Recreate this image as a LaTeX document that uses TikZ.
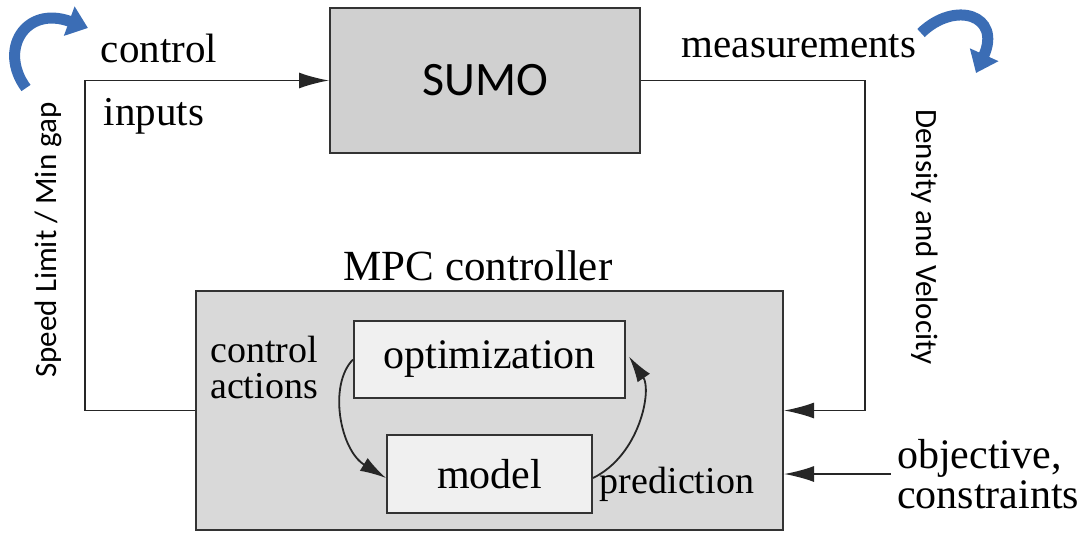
\documentclass[tikz,border=0pt]{standalone}
\usepackage{fontspec}
\setmainfont{Liberation Serif}
\newfontfamily\calfont{Carlito}
\usetikzlibrary{positioning, arrows.meta, calc}

\definecolor{sumogray}{HTML}{D0D0D0}
\definecolor{mpcgray}{HTML}{D9D9D9}
\definecolor{innergray}{HTML}{F0F0F0}
\definecolor{hintblue}{HTML}{3B6DB5}

\begin{document}
\begin{tikzpicture}[
        x=1pt, y=-1pt,
        >={Latex[length=30pt, width=16pt]},
        block/.style={draw=black!80, line width=2pt, rectangle, align=center},
        inner/.style={block, fill=innergray, font=\fontsize{42}{44}\selectfont},
        lbl/.style={inner sep=2pt, font=\fontsize{41}{44}\selectfont},
        small_lbl/.style={inner sep=2pt, align=left, font=\fontsize{38}{36}\selectfont},
        side_text/.style={inner sep=0pt, font=\calfont\fontsize{31}{34}\selectfont},
        link/.style={line width=1.8pt, draw=black!85},
        hint/.style={draw=hintblue, line width=11pt, -{Triangle[length=20pt, width=30pt]}}
        ]
        \useasboundingbox (0,0) rectangle (1083,533);

        % Nodes
        \node[block, fill=sumogray, minimum width=310pt, minimum height=145pt,
              font=\calfont\fontsize{48}{50}\selectfont] (sumo) at (485,80.5) {SUMO};
        \node[block, fill=mpcgray, minimum width=587pt, minimum height=239pt] (mpc) at (489.5,410.5) {};
        \node[inner, minimum width=271pt, minimum height=77pt] (opt) at (489.5,359.5) {optimization};
        \node[inner, minimum width=205pt, minimum height=78pt] (model) at (489.5,474) {model};

        % Labels
        \node[lbl] (ctrl) at (159,48) {control};
        \node[lbl] (inputs) at (154,116) {inputs};
        \node[lbl] (meas) at (799,46) {measurements};
        \node[lbl, font=\fontsize{43}{44}\selectfont] (mpclabel) at (478,266) {MPC controller};
        \node[small_lbl] (actions) at (264,367) {control\\actions};
        \node[small_lbl] (pred) at (677,484) {prediction};
        \node[lbl, align=left, font=\fontsize{42}{40}\selectfont] (obj) at (988,474) {objective,\\constraints};
        \node[side_text, rotate=90] (speed) at (48,240) {Speed Limit / Min gap};
        \node[side_text, rotate=-90] (dens) at (925,237) {Density and Velocity};

        % Corners of the feedback loop
        \coordinate (cl) at (85,410.5);
        \coordinate (cr) at (865,410.5);

        % Arrows
        \draw[link, ->] (mpc.west) -- (cl) |- (sumo.west);
        \draw[link, ->] (sumo.east) -| (cr) -- (mpc.east);
        \draw[link, ->] ([xshift=-4pt]obj.west) -- (obj.west -| mpc.east);

        % Inner loop
        \draw[link, -{Latex[length=26pt, width=15pt]}] (opt.west) .. controls (328,385) and (340,450) .. ([yshift=-4pt]model.west);
        \draw[link, -{Latex[length=26pt, width=15pt]}] ([yshift=-4pt]model.east) .. controls (640,455) and (652,390) .. ([xshift=3pt, yshift=3pt]opt.east);

        % Blue hints
        \coordinate (tl_start) at (26,88);
        \coordinate (tl_end) at (88,28);
        \coordinate (tr_start) at (921,33);
        \coordinate (tr_end) at (976,73);
        \draw[hint] (tl_start) .. controls (-2,50) and (25,5) .. (tl_end);
        \draw[hint] (tr_start) .. controls (955,0) and (1002,15) .. (tr_end);

    \end{tikzpicture}
\end{document}
